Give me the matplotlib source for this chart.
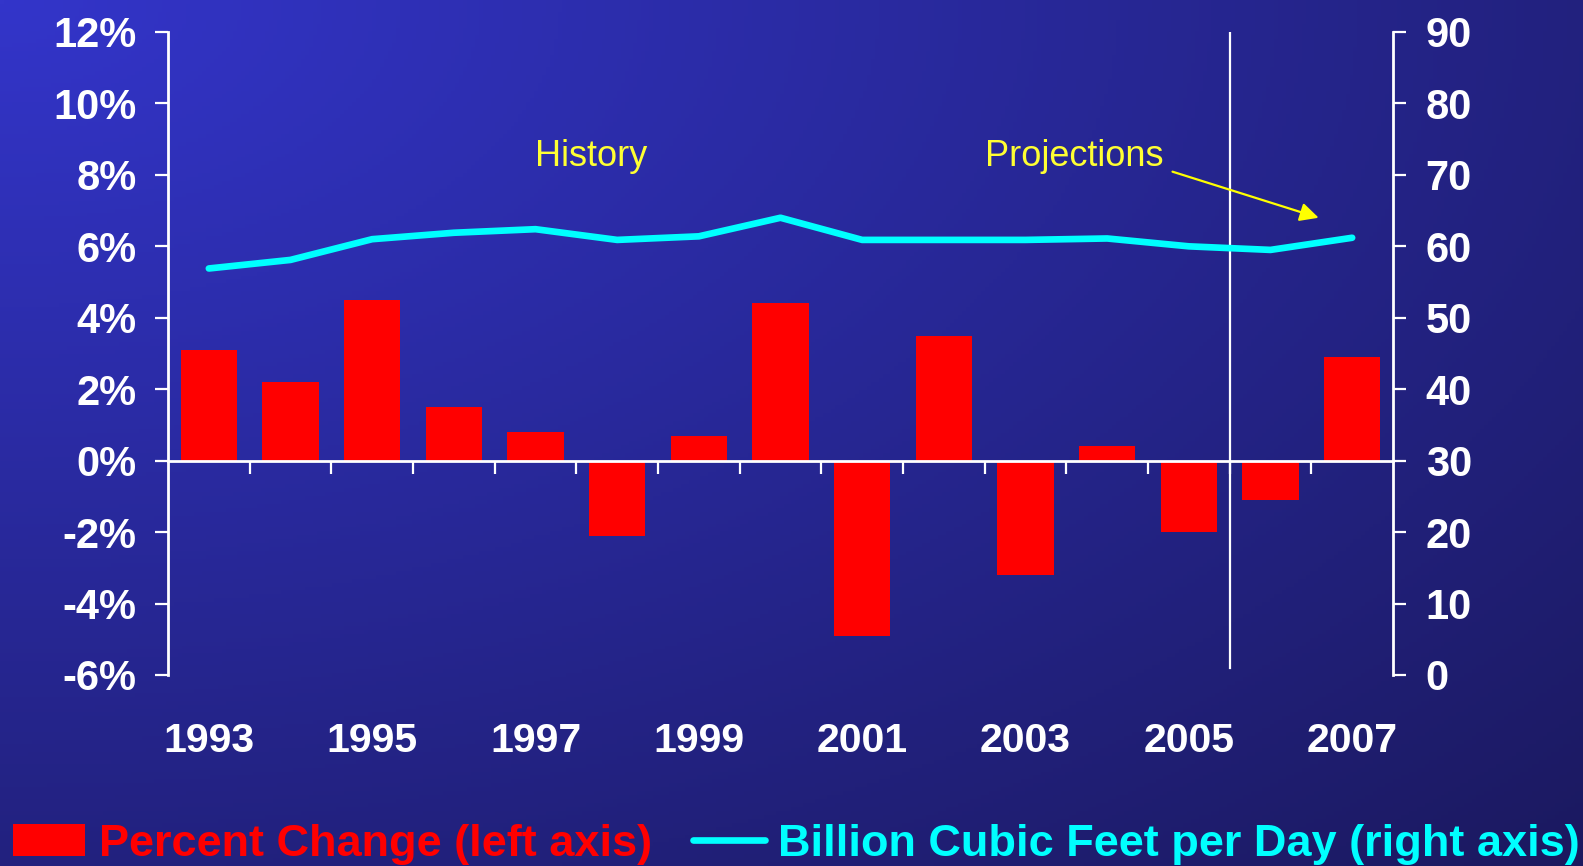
import numpy as np
import matplotlib
matplotlib.use("Agg")
import matplotlib.pyplot as plt
from matplotlib.patches import Patch
from matplotlib.lines import Line2D

years = list(range(1993, 2008))
pct_change = [3.1, 2.2, 4.5, 1.5, 0.8, -2.1, 0.7, 4.4, -4.9, 3.5, -3.2, 0.4, -2.0, -1.1, 2.9]
bcf_per_day = [56.9, 58.1, 61.0, 61.9, 62.4, 60.9, 61.4, 64.0, 60.9, 60.9, 60.9, 61.1, 60.0, 59.5, 61.2]
left_ticks = [-6, -4, -2, 0, 2, 4, 6, 8, 10, 12]
left_labels = [f"{v}%" for v in left_ticks]
right_ticks = [0, 10, 20, 30, 40, 50, 60, 70, 80, 90]
year_labels = [str(y) for y in years[::2]]
bar_label = "Percent Change (left axis)"
line_label = "Billion Cubic Feet per Day (right axis)"

plt.rcParams['font.family'] = ['Liberation Sans', 'DejaVu Sans']

W, H = 1583, 866
fig = plt.figure(figsize=(W / 100, H / 100), dpi=100)

# background gradient
bg = fig.add_axes([0, 0, 1, 1], zorder=-10)
gx, gy = np.meshgrid(np.linspace(0, 1, 400), np.linspace(0, 1, 220))
t = np.clip(np.sqrt((gx * 1.0) ** 2 + (gy * 1.0) ** 2) / np.sqrt(2), 0, 1)
c0 = np.array([51, 53, 202]) / 255
c1 = np.array([27, 25, 95]) / 255
img = c0[None, None, :] * (1 - t[..., None]) + c1[None, None, :] * t[..., None]
bg.imshow(img, aspect='auto', extent=[0, 1, 0, 1], origin='upper')
bg.axis('off')

ax = fig.add_axes([168 / W, (H - 675) / H, (1393 - 168) / W, (675 - 32) / H])
ax.set_facecolor('none')
x = np.arange(len(years))

bars = ax.bar(x, pct_change, width=0.69, color='#FF0000', zorder=2)
ax.set_xlim(-0.5, len(years) - 0.5)
ax.set_ylim(-6, 12)
ax.set_yticks(left_ticks)
ax.set_yticklabels(left_labels)

for s in ['top', 'right']:
    ax.spines[s].set_visible(False)
ax.spines['left'].set_color('white')
ax.spines['left'].set_linewidth(2)
ax.spines['bottom'].set_position(('data', 0))
ax.spines['bottom'].set_color('white')
ax.spines['bottom'].set_linewidth(2)
ax.tick_params(axis='y', colors='white', length=9.5, width=1.6, pad=13, labelsize=30)
for lab in ax.get_yticklabels():
    lab.set_fontweight('bold')
ax.set_xticks(np.arange(0.5, len(years) - 1, 1.0))
ax.tick_params(axis='x', colors='white', length=9.5, width=1.6, labelbottom=False)

# year labels on a secondary axis at the bottom
sec = ax.secondary_xaxis(0)
sec.set_xticks(x[::2])
sec.set_xticklabels(year_labels)
sec.spines['bottom'].set_visible(False)
sec.tick_params(axis='x', length=0, pad=34, labelsize=29.5, colors='white')
for lab in sec.get_xticklabels():
    lab.set_fontweight('bold')

ax2 = ax.twinx()
ax2.set_ylim(0, 90)
ax2.set_yticks(right_ticks)
for s in ['top', 'left', 'bottom']:
    ax2.spines[s].set_visible(False)
ax2.spines['right'].set_color('white')
ax2.spines['right'].set_linewidth(2)
ax2.tick_params(axis='y', colors='white', length=9.5, width=1.6, pad=14, labelsize=30)
for lab in ax2.get_yticklabels():
    lab.set_fontweight('bold')
line, = ax2.plot(x, bcf_per_day, color='#00FFFF', lw=4.8, solid_capstyle='round',
                 solid_joinstyle='round', zorder=3)

# history / projections divider
ax.plot([12.5, 12.5], [-5.8, 12], color='white', lw=1.6, zorder=1)

ax.text(4.68, 8.235, "History", color='#FFFF33', fontsize=26, ha='center', va='baseline')
ax.text(10.6, 8.235, "Projections", color='#FFFF33', fontsize=26, ha='center', va='baseline')
ax.annotate("", xy=(13.59, 6.8), xytext=(11.8, 8.09),
            arrowprops=dict(arrowstyle='-|>', color='#FFFF00', lw=1.6, mutation_scale=28,
                            shrinkA=0, shrinkB=0))

handles = [Patch(facecolor='#FF0000', edgecolor='none'),
           Line2D([0], [0], color='#00FFFF', lw=4.8, solid_capstyle='round')]
leg = fig.legend(handles, [bar_label, line_label], loc='lower left',
                 bbox_to_anchor=(13 / W, 1 / H), ncol=2, frameon=False,
                 prop={'weight': 'bold', 'size': 32.5}, handlelength=1.6,
                 handleheight=0.7, handletextpad=0.3, columnspacing=0.9, borderpad=0,
                 borderaxespad=0)
for txt, c in zip(leg.get_texts(), ['#FF0000', '#00FFFF']):
    txt.set_color(c)

fig.savefig("out.png", dpi=100)
